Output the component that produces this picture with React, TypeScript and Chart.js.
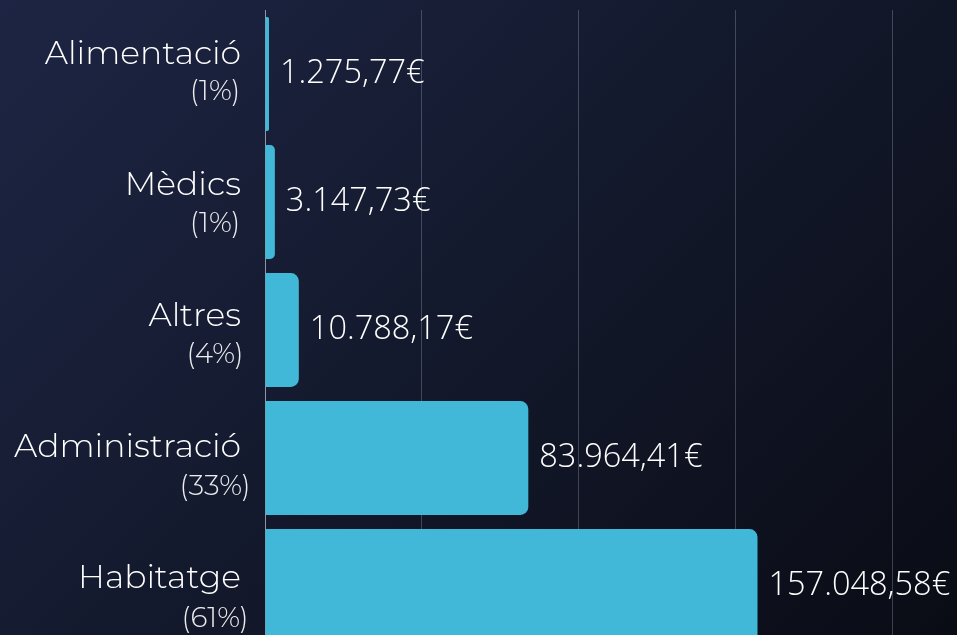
import React, { useEffect, useRef } from "react";
import { Chart, registerables } from "chart.js";

Chart.register(...registerables);

const categories = ["Alimentació", "Mèdics", "Altres", "Administració", "Habitatge"];
const amounts = [1275.77, 3147.73, 10788.17, 83964.41, 157048.58];
const shares = [1, 1, 4, 33, 61];
const xTicks = [0, 50000, 100000, 150000, 200000, 250000];

function fmtEuro(v: number): string {
  const [intPart, dec] = v.toFixed(2).split(".");
  const grouped = intPart.replace(/\B(?=(\d{3})+(?!\d))/g, ".");
  return grouped + "," + dec + "€";
}

const LABEL_FONT = "Montserrat, 'Open Sans', sans-serif";
const VALUE_FONT = "'Open Sans', sans-serif";

const labelsPlugin = {
  id: "customLabels",
  afterDatasetsDraw(chart: any) {
    const ctx = chart.ctx;
    const yScale = chart.scales.y;
    const area = chart.chartArea;
    const meta = chart.getDatasetMeta(0);
    const mid = yScale.getPixelForValue(2);
    ctx.save();
    ctx.fillStyle = "#ffffff";
    ctx.textBaseline = "middle";
    categories.forEach((name, i) => {
      const yc = yScale.getPixelForValue(i);
      const y1 = yc + (yc - mid) * 0.0224 - 13.5;
      const y2 = y1 + 37 + i * 0.8;
      ctx.font = `300 33px ${LABEL_FONT}`;
      ctx.textAlign = "right";
      ctx.fillStyle = "#ffffff";
      ctx.fillText(name, area.left - 24, y1);
      ctx.font = `300 28px ${LABEL_FONT}`;
      ctx.textAlign = "center";
      ctx.fillStyle = "rgba(255,255,255,0.92)";
      ctx.fillText(`(${shares[i]}%)`, area.left - 50, y2);
    });
    ctx.fillStyle = "#ffffff";
    meta.data.forEach((bar: any, i: number) => {
      ctx.font = `300 32.5px ${VALUE_FONT}`;
      ctx.textAlign = "left";
      ctx.fillText(fmtEuro(amounts[i]), bar.x + 11, bar.y);
    });
    ctx.restore();
  },
};

export default function App() {
  const ref = useRef<HTMLCanvasElement | null>(null);
  useEffect(() => {
    if (!ref.current) return;
    const chart = new Chart(ref.current, {
      type: "bar",
      data: {
        labels: categories,
        datasets: [
          {
            data: amounts,
            backgroundColor: "#41b8d7",
            borderRadius: 8,
            borderSkipped: "start",
            categoryPercentage: 1,
            barPercentage: 0.89,
          },
        ],
      },
      options: {
        indexAxis: "y",
        responsive: false,
        animation: false,
        layout: { padding: { left: 265, top: 10, right: 0, bottom: 0 } },
        plugins: { legend: { display: false }, tooltip: { enabled: false } },
        scales: {
          x: {
            min: xTicks[0],
            max: xTicks[xTicks.length - 1],
            afterBuildTicks: (s: any) => {
              s.ticks = xTicks.map((v) => ({ value: v }));
            },
            afterFit: (s: any) => {
              s.height = 0;
            },
            ticks: { display: false },
            border: { display: false },
            grid: {
              drawTicks: false,
              color: (c: any) => (c.index === 0 ? "rgba(0,0,0,0)" : "rgba(190,195,215,0.28)"),
              lineWidth: 1,
            },
          },
          y: {
            afterFit: (s: any) => {
              s.width = 0;
            },
            ticks: { display: false },
            grid: { display: false, drawTicks: false },
            border: { display: true, color: "rgba(200,200,210,0.7)", width: 1 },
          },
        },
      },
      plugins: [labelsPlugin],
    });
    return () => chart.destroy();
  }, []);
  return (
    <div
      style={{
        position: "fixed",
        left: 0,
        top: 0,
        width: 957,
        height: 635,
        overflow: "hidden",
        background: "linear-gradient(135deg, #1e2544 0%, #141a2e 45%, #0a0c15 100%)",
      }}
    >
      <canvas ref={ref} width={1049} height={650} style={{ position: "absolute", left: 0, top: 0 }} />
    </div>
  );
}
